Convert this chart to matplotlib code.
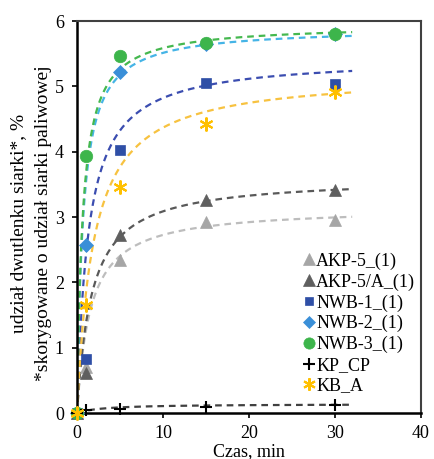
import numpy as np
import matplotlib
matplotlib.use("Agg")
import matplotlib.pyplot as plt

plt.rcParams["font.family"] = ["Liberation Serif", "DejaVu Serif"]

# measurement times, min
czas = [0, 1, 5, 15, 30]

akp5 = [0, 0.70, 2.35, 2.92, 2.95]
akp5a = [0, 0.62, 2.72, 3.26, 3.41]
nwb1 = [0, 0.83, 4.02, 5.06, 5.03]
nwb2 = [0, 2.58, 5.22, 5.65, 5.80]
nwb3 = [0, 3.93, 5.46, 5.66, 5.80]
kp_cp = [0, 0.05, 0.07, 0.10, 0.12]
kb_a = [0, 1.65, 3.46, 4.42, 4.92]

# trend parameters y = a*t/(b+t)
fit_a = [3.15, 3.61, 5.45, 5.90, 5.95, 0.14, 5.20]
fit_b = [1.55, 1.69, 1.30, 0.70, 0.65, 3.00, 1.90]

labels = ["AKP-5_(1)", "AKP-5/A_(1)", "NWB-1_(1)", "NWB-2_(1)",
          "NWB-3_(1)", "KP_CP", "KB_A"]
series = [akp5, akp5a, nwb1, nwb2, nwb3, kp_cp, kb_a]

marker_colors = ["#A6A6A6", "#5F5F5F", "#2F4FA6", "#3A8FD8", "#3DB54B",
                 "#000000", "#FFC000"]
line_colors = ["#BDBDBD", "#595959", "#3B4DB0", "#45B4E6", "#45B84F",
               "#404040", "#F7C240"]
markers = ["^", "^", "s", "D", "o", "+", (6, 2, 0)]
msizes = [9, 9, 6.5, 7, 9, 9, 10]

fig = plt.figure(figsize=(4.34, 4.59), dpi=100)
ax = fig.add_axes([0.1774, 0.100, 0.7926, 0.854])

t = np.linspace(0, 32, 300)
for i in range(len(series)):
    ax.plot(t, fit_a[i] * t / (fit_b[i] + t), color=line_colors[i],
            linestyle=(0, (3, 2.2)), linewidth=1.6, zorder=2)

for i in range(len(series)):
    thin = markers[i] == "+" or isinstance(markers[i], tuple)
    ax.plot(czas, series[i], linestyle="none", marker=markers[i],
            markersize=msizes[i], color=marker_colors[i],
            markeredgewidth=1.5 if thin else 0.5,
            label=labels[i], clip_on=False, zorder=3)

ax.set_xlim(0, 40)
ax.set_ylim(0, 6)
ax.set_xticks([0, 10, 20, 30, 40])
ax.set_yticks([0, 1, 2, 3, 4, 5, 6])
ax.tick_params(labelsize=13, direction="out", length=3.5, width=1.2)
ax.tick_params(axis="x", pad=5)
ax.tick_params(axis="y", pad=6)
ax.spines["left"].set_linewidth(1.8)
ax.spines["bottom"].set_linewidth(1.8)
ax.spines["top"].set_color("#404040")
ax.spines["right"].set_color("#404040")
ax.spines["top"].set_linewidth(1.5)
ax.spines["right"].set_linewidth(1.5)

ax.set_xlabel("Czas, min", fontsize=13, labelpad=0.5)
ax.set_ylabel("udział dwutlenku siarki*, %\n*skorygowane o udział siarki paliwowej",
              fontsize=14, linespacing=1.6)
ax.yaxis.set_label_coords(-0.074, 0.485)

ax.legend(loc="lower right", bbox_to_anchor=(1.02, 0.015), fontsize=13,
          frameon=False, handlelength=0.6, handletextpad=0.1,
          labelspacing=0.2, borderaxespad=0.3, markerscale=0.9)

plt.savefig("out.png", dpi=100)
